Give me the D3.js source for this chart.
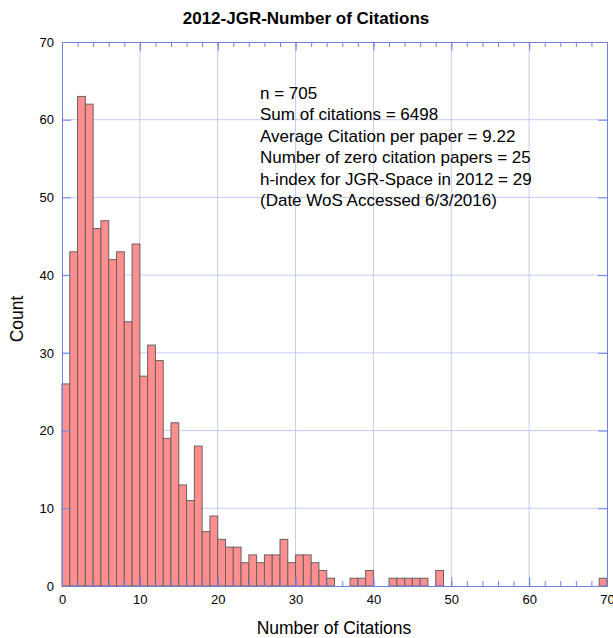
<!DOCTYPE html>
<html>
<head>
<meta charset="utf-8">
<script src="https://cdn.jsdelivr.net/npm/d3@7"></script>
<style>
  body { margin: 0; background: #fff; }
  svg { font-family: "Liberation Sans", Arial, sans-serif; }
  .axis path, .axis line { stroke: #6f82e8; }
  .axis text { fill: #000; font-size: 13px; }
</style>
</head>
<body>
<svg class="chart"></svg>
<script>
// citation bins (0..69) and paper counts
var bins = d3.range(0, 70);
var counts = [26, 43, 63, 62, 46, 47, 42, 43, 34, 44,
              27, 31, 29, 19, 21, 13, 11, 18, 7, 9,
              6, 5, 5, 3, 4, 3, 4, 4, 6, 3,
              4, 4, 3, 2, 1, 0, 0, 1, 1, 2,
              0, 0, 1, 1, 1, 1, 1, 0, 2, 0,
              0, 0, 0, 0, 0, 0, 0, 0, 0, 0,
              0, 0, 0, 0, 0, 0, 0, 0, 0, 1];
var xTicks = [0, 10, 20, 30, 40, 50, 60, 70];
var yTicks = [0, 10, 20, 30, 40, 50, 60, 70];
var notes = ["n = 705",
             "Sum of citations = 6498",
             "Average Citation per paper = 9.22",
             "Number of zero citation papers = 25",
             "h-index for JGR-Space in 2012 = 29",
             "(Date WoS Accessed 6/3/2016)"];

var data = bins.map(function(b, i) { return {bin: b, count: counts[i]}; });

var margin = {top: 42, right: 6, bottom: 52, left: 62},
    width = 613 - margin.left - margin.right,
    height = 638 - margin.top - margin.bottom;

var svg = d3.select(".chart")
    .attr("width", 613)
    .attr("height", 638);

var chart = svg.append("g")
    .attr("transform", "translate(" + margin.left + "," + margin.top + ")");

var x = d3.scaleLinear().domain([0, 70]).range([0, width]);
var y = d3.scaleLinear().domain([0, 70]).range([height, 0]);

// grid
chart.append("g").selectAll("line")
    .data(xTicks.slice(1, -1)).enter().append("line")
    .attr("x1", function(d) { return x(d); })
    .attr("x2", function(d) { return x(d); })
    .attr("y1", 0).attr("y2", height)
    .attr("stroke", "#c5ccf6").attr("stroke-width", 1);
chart.append("g").selectAll("line")
    .data(yTicks.slice(1, -1)).enter().append("line")
    .attr("y1", function(d) { return y(d); })
    .attr("y2", function(d) { return y(d); })
    .attr("x1", 0).attr("x2", width)
    .attr("stroke", "#c5ccf6").attr("stroke-width", 1);

// bars
chart.selectAll(".bar")
    .data(data.filter(function(d) { return d.count > 0; }))
    .enter().append("rect")
    .attr("class", "bar")
    .attr("x", function(d) { return x(d.bin); })
    .attr("y", function(d) { return y(d.count); })
    .attr("width", function(d) { return x(d.bin + 1) - x(d.bin); })
    .attr("height", function(d) { return height - y(d.count); })
    .attr("fill", "#ff8e8e")
    .attr("stroke", "#6a6060")
    .attr("stroke-width", 1);

// axes: major ticks inward, minor every 2
var minor = d3.range(0, 71, 2);
chart.append("g")
    .attr("class", "axis")
    .attr("transform", "translate(0," + height + ")")
    .call(d3.axisBottom(x).tickValues(minor).tickSize(-5).tickFormat(""))
    .call(function(g) { g.select(".domain").remove(); });
chart.append("g")
    .attr("class", "axis")
    .attr("transform", "translate(0," + height + ")")
    .call(d3.axisBottom(x).tickValues(xTicks).tickSize(-9).tickPadding(9).tickSizeOuter(0));
chart.append("g")
    .attr("class", "axis")
    .call(d3.axisTop(x).tickValues(minor).tickSize(-5).tickFormat(""))
    .call(function(g) { g.select(".domain").remove(); });
chart.append("g")
    .attr("class", "axis")
    .call(d3.axisTop(x).tickValues(xTicks).tickSize(-9).tickFormat("").tickSizeOuter(0));
chart.append("g")
    .attr("class", "axis")
    .call(d3.axisLeft(y).tickValues(yTicks).tickSize(-9).tickPadding(8).tickSizeOuter(0));
chart.append("g")
    .attr("class", "axis")
    .attr("transform", "translate(" + width + ",0)")
    .call(d3.axisRight(y).tickValues(yTicks).tickSize(-9).tickFormat("").tickSizeOuter(0));

// title and labels
svg.append("text")
    .attr("x", 306).attr("y", 24)
    .attr("text-anchor", "middle")
    .attr("font-size", "17px").attr("font-weight", "bold")
    .text("2012-JGR-Number of Citations");
svg.append("text")
    .attr("x", 334).attr("y", 634)
    .attr("text-anchor", "middle")
    .attr("font-size", "17.5px")
    .text("Number of Citations");
svg.append("text")
    .attr("transform", "translate(23,319) rotate(-90)")
    .attr("text-anchor", "middle")
    .attr("font-size", "17.5px")
    .text("Count");

svg.append("g").selectAll("text")
    .data(notes).enter().append("text")
    .attr("x", 260)
    .attr("y", function(d, i) { return 99 + i * 21.4; })
    .attr("font-size", "17px")
    .text(function(d) { return d; });
</script>
</body>
</html>
